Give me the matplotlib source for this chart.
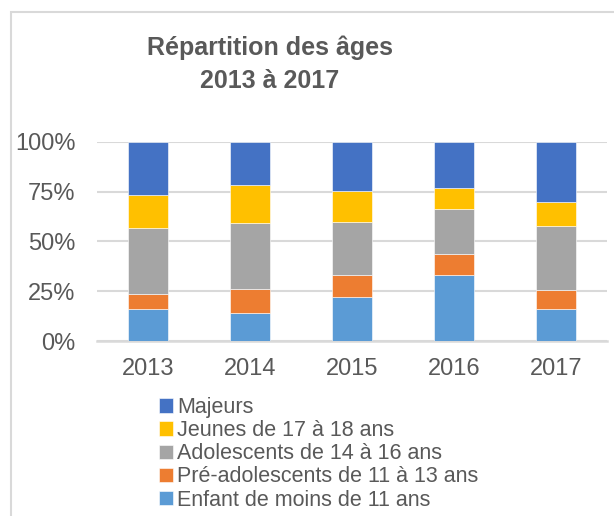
import matplotlib.pyplot as plt
import matplotlib.patches as mpatches
import numpy as np

plt.rcParams['font.family'] = ['Liberation Sans', 'DejaVu Sans']

years = ['2013', '2014', '2015', '2016', '2017']
enfant = [16.3, 14.3, 22.2, 33.1, 16.0]
pre_ado = [7.2, 11.8, 10.9, 10.4, 9.5]
ado = [33.3, 33.2, 26.9, 22.9, 32.5]
jeunes = [16.8, 19.2, 15.3, 10.6, 11.6]
majeurs = [26.4, 21.5, 24.7, 23.0, 30.4]

series = [
    ('Enfant de moins de 11 ans', enfant, '#5B9BD5'),
    ('Pré-adolescents de 11 à 13 ans', pre_ado, '#ED7D31'),
    ('Adolescents de 14 à 16 ans', ado, '#A5A5A5'),
    ('Jeunes de 17 à 18 ans', jeunes, '#FFC000'),
    ('Majeurs', majeurs, '#4472C4'),
]

text_color = '#595959'

fig = plt.figure(figsize=(6.14, 5.16), dpi=100)
ax = fig.add_axes([97 / 614, 1 - 341 / 516, 510 / 614, 199 / 516])

# chart border
fig.patches.append(mpatches.Rectangle((11 / 614, -0.1), 1.2, 1 - 12 / 516 + 0.1,
                                      transform=fig.transFigure, fill=False,
                                      edgecolor='#D9D9D9', linewidth=1.5))

x = np.arange(len(years))
bottom = np.zeros(len(years))
handles = []
for label, vals, color in series:
    bars = ax.bar(x, vals, 0.4, bottom=bottom, color=color, label=label,
                  edgecolor='white', linewidth=0.4, zorder=3)
    bottom += np.array(vals)
    handles.append(bars)

ax.set_xlim(-0.5, len(years) - 0.5)
ax.set_ylim(0, 100)
ax.set_yticks([0, 25, 50, 75, 100])
ax.set_yticklabels(['0%', '25%', '50%', '75%', '100%'])
ax.set_xticks(x)
ax.set_xticklabels(years)
ax.tick_params(axis='both', length=0, labelsize=17, colors=text_color)
ax.tick_params(axis='y', pad=15.5)
ax.tick_params(axis='x', pad=12)
ax.grid(axis='y', color='#D9D9D9', linewidth=1.5, zorder=0)
for s in ['top', 'right', 'left']:
    ax.spines[s].set_visible(False)
ax.spines['bottom'].set_color('#D9D9D9')
ax.spines['bottom'].set_linewidth(1.8)

fig.text(270 / 614, 1 - 48 / 516, 'Répartition des âges', ha='center', va='center',
         fontsize=18, fontweight='bold', color=text_color)
fig.text(270 / 614, 1 - 81 / 516, '2013 à 2017', ha='center', va='center',
         fontsize=18, fontweight='bold', color=text_color)

leg = fig.legend(handles[::-1], [s[0] for s in series][::-1],
                 loc='upper left', bbox_to_anchor=(159 / 614, 1 - 397 / 516),
                 frameon=False, fontsize=15.5, handlelength=0.65, handleheight=0.65,
                 handletextpad=0.2, labelspacing=0.1, borderaxespad=0,
                 borderpad=0)
for t in leg.get_texts():
    t.set_color(text_color)

fig.savefig('out.png', dpi=100)
